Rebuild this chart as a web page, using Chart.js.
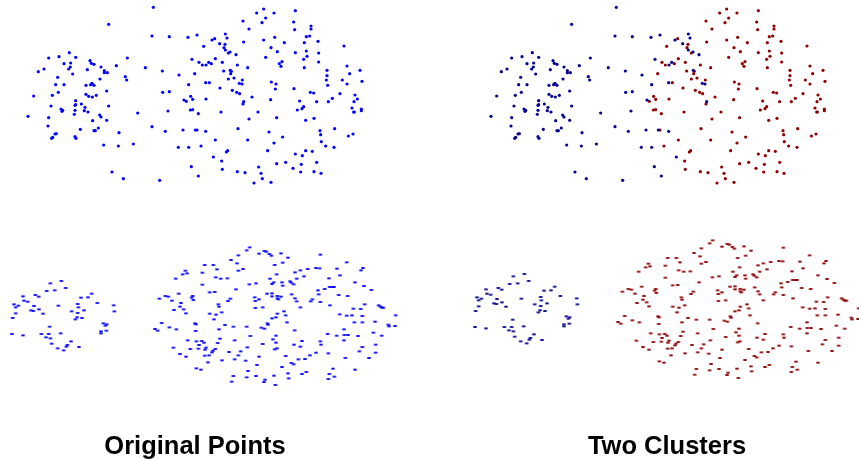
<!DOCTYPE html>
<html>
<head>
<meta charset="utf-8">
<title>Two Clusters</title>
<script src="https://cdn.jsdelivr.net/npm/chart.js@4"></script>
<style>
  html, body { margin: 0; padding: 0; background: #fff; }
  #wrap { position: relative; width: 859px; height: 459px; overflow: hidden; }
  canvas { display: block; }
  .title { position: absolute; top: 430px; width: 300px; text-align: center; color: #000;
           font: bold 25.5px "Liberation Sans", Arial, sans-serif; line-height: 30px; }
</style>
</head>
<body>
<div id="wrap">
  <canvas id="chart" width="859" height="459"></canvas>
  <div class="title" style="left:45px">Original Points</div>
  <div class="title" style="left:517px">Two Clusters</div>
</div>
<script>
// values, x then y
const topBlue = [[460,22],[326,73],[456,108],[508,110],[564,112],[591,105],[208,158],[146,174],[177,170],[227,172],[192,191],[212,189],[211,201],[206,207],[115,215],[132,207],[218,222],[173,232],[167,254],[192,254],[175,277],[157,286],[101,288],[270,182],[274,190],[282,193],[262,209],[303,201],[313,212],[313,218],[322,218],[300,237],[349,197],[382,174],[436,203],[376,230],[380,240],[487,213],[537,225],[576,178],[566,254],[258,256],[272,254],[276,250],[282,256],[320,273],[258,283],[266,289],[277,291],[289,286],[488,277],[508,275],[552,300],[227,302],[227,314],[225,316],[244,312],[255,322],[253,332],[264,336],[225,331],[223,343],[326,318],[153,318],[183,327],[188,331],[186,334],[146,353],[84,349],[299,345],[303,351],[278,362],[320,361],[413,339],[504,333],[144,378],[165,402],[169,401],[158,412],[155,415],[225,410],[228,415],[241,388],[295,384],[282,392],[286,392],[357,398],[311,435],[355,438],[400,432],[456,380],[496,394],[549,390],[586,390],[535,442],[566,442],[336,516],[370,536],[479,541],[574,500],[595,528],[676,102],[681,114],[636,120],[659,131],[676,150],[690,156],[708,164],[618,195],[626,187],[691,211],[718,250],[726,252],[617,248],[731,305],[617,394],[640,471]];
const topRed = [[584,221],[572,289],[578,298],[559,304],[571,330],[578,329],[595,341],[591,390],[791,27],[770,39],[822,39],[886,32],[797,54],[729,63],[786,68],[881,66],[933,78],[933,87],[747,87],[884,89],[644,116],[611,139],[675,133],[672,143],[685,159],[646,176],[667,187],[597,187],[607,195],[634,191],[712,195],[743,203],[671,213],[694,214],[692,221],[685,237],[702,234],[727,240],[628,248],[660,264],[697,271],[710,277],[719,281],[756,291],[618,297],[729,312],[663,336],[774,336],[747,357],[714,386],[646,420],[743,420],[603,438],[683,452],[679,456],[665,483],[667,508],[712,515],[735,518],[776,501],[783,520],[787,536],[762,549],[813,547],[824,112],[791,120],[731,126],[853,128],[919,110],[929,108],[954,124],[913,128],[1032,138],[813,143],[832,155],[886,158],[919,153],[956,159],[921,169],[911,178],[797,172],[956,186],[846,185],[838,191],[843,199],[913,203],[1041,198],[981,211],[1080,211],[1049,221],[981,227],[979,240],[1027,240],[1086,244],[1041,252],[983,256],[814,246],[828,252],[826,267],[882,266],[931,277],[941,279],[1020,281],[1065,285],[997,295],[1072,297],[812,299],[899,303],[950,305],[985,305],[1062,305],[911,320],[906,326],[892,330],[1056,324],[1084,327],[1084,332],[1061,336],[1063,336],[830,353],[942,355],[917,361],[1004,386],[807,396],[960,392],[962,404],[1059,402],[1045,408],[848,411],[822,429],[964,425],[977,438],[1002,442],[803,452],[917,452],[937,454],[886,462],[907,467],[950,487],[857,487],[830,491],[904,493],[879,505],[902,516],[942,515],[963,520]];
const lowBlue = [[151,145],[184,138],[197,159],[140,168],[164,166],[69,184],[106,180],[116,185],[72,197],[83,200],[42,208],[55,212],[47,217],[102,213],[175,212],[93,226],[100,228],[117,223],[129,236],[47,235],[38,249],[243,188],[264,187],[275,176],[292,204],[233,207],[235,217],[252,226],[215,229],[233,234],[341,211],[343,229],[231,247],[226,253],[246,249],[310,265],[320,268],[316,272],[149,275],[36,297],[69,301],[124,297],[146,297],[182,295],[138,307],[151,310],[303,289],[303,295],[319,287],[155,326],[213,319],[202,330],[199,335],[173,340],[191,346],[237,336]];
const lowRed = [[556,107],[548,118],[561,115],[527,131],[536,176],[496,183],[505,185],[478,191],[516,197],[578,183],[575,188],[580,195],[543,204],[540,215],[522,225],[551,223],[558,235],[485,264],[585,265],[588,268],[465,282],[473,287],[508,277],[529,283],[587,288],[563,316],[589,319],[597,330],[520,338],[571,342],[595,341],[540,357],[558,365],[589,400],
[749,37],[740,46],[793,48],[799,50],[777,56],[808,57],[814,62],[843,55],[715,61],[864,68],[961,59],[693,75],[711,85],[848,83],[824,90],[614,90],[640,90],[651,103],[729,102],[715,107],[607,113],[1040,82],[901,106],[885,112],[923,102],[948,99],[959,100],[1011,101],[1089,99],[1083,106],[830,118],[912,124],[1020,121],[647,127],[662,131],[682,130],[810,131],[890,131],[987,130],[870,139],[874,143],[846,142],[821,142],[816,147],[768,145],[748,148],[848,152],[881,148],[1065,142],[607,149],[708,163],[1092,153],[989,156],[997,156],[1002,156],[974,162],[954,166],[1114,165],[629,172],[644,171],[956,178],[801,176],[816,175],[816,184],[832,183],[843,185],[832,190],[835,193],[875,178],[764,187],[777,193],[766,198],[885,190],[890,199],[1016,180],[1043,183],[691,191],[684,198],[937,193],[932,199],[961,201],[655,208],[657,215],[766,219],[788,217],[901,217],[990,211],[1094,208],[1136,211],[1141,215],[1146,218],[1150,218],[1060,221],[1082,222],[852,229],[832,236],[629,236],[648,239],[665,232],[857,241],[816,250],[828,247],[1019,238],[1040,242],[1056,241],[1087,243],[1187,241],[642,253],[861,262],[802,265],[804,269],[1063,262],[1087,262],[1125,260],[1165,269],[1167,274],[1185,273],[675,270],[700,275],[740,275],[784,278],[793,281],[657,283],[884,286],[1032,283],[983,297],[1010,302],[1033,300],[1044,300],[1074,303],[1120,293],[1145,302],[751,303],[828,302],[819,313],[660,311],[704,316],[906,318],[961,319],[1032,316],[605,318],[612,323],[653,324],[788,327],[828,323],[882,329],[963,329],[1127,329],[901,335],[1087,336],[742,337],[618,338],[646,342],[615,344],[639,347],[636,352],[831,340],[824,343],[722,349],[687,351],[948,353],[985,355],[1078,349],[1127,353],[715,361],[614,362],[627,361],[777,365],[857,363],[930,361],[704,373],[666,376],[737,377],[895,373],[915,372],[1036,369],[1107,369],[624,382],[874,384],[881,388],[771,390],[846,396],[999,401],[603,404],[1065,404],[744,408],[919,411],[864,415],[906,417],[988,417],[700,423],[768,423],[822,422],[1003,425],[740,427],[866,430],[985,432],[795,434],[695,440],[792,441],[826,450]];

const BLUE = '#0000ff', NAVY = '#00008f', MAROON = '#8f0000';

// the lower plots are squashed, so their dots come out as flat ellipses
function flatDot(color) {
    const c = document.createElement('canvas');
    c.width = 6;
    c.height = 4;
    const g = c.getContext('2d');
    g.fillStyle = color;
    g.beginPath();
    g.ellipse(3, 2, 2.1, 1.1, 0, 0, Math.PI * 2);
    g.fill();
    return c;
}

function toPoints(list) {
    return list.map(function(p) { return { x: p[0], y: p[1] }; });
}

function series(label, list, color, xAxisID, yAxisID, flat) {
    return {
        label: label,
        data: toPoints(list),
        xAxisID: xAxisID,
        yAxisID: yAxisID,
        backgroundColor: color,
        borderColor: color,
        borderWidth: 0,
        pointRadius: 1.6,
        pointStyle: flat ? flatDot(color) : 'circle',
        clip: false
    };
}

function hidden(min, max, reverse) {
    return { type: 'linear', display: false, min: min, max: max, reverse: !!reverse };
}

new Chart(document.getElementById('chart'), {
    type: 'scatter',
    data: {
        datasets: [
            series('top', topBlue.concat(topRed), BLUE, 'xLeft', 'yTop', false),
            series('bottom', lowBlue.concat(lowRed), BLUE, 'xLeft', 'yLowLeft', true),
            series('top cluster 1', topBlue, NAVY, 'xRight', 'yTop', false),
            series('top cluster 2', topRed, MAROON, 'xRight', 'yTop', false),
            series('bottom cluster 1', lowBlue, NAVY, 'xRight', 'yLowRight', true),
            series('bottom cluster 2', lowRed, MAROON, 'xRight', 'yLowRight', true)
        ]
    },
    options: {
        responsive: false,
        animation: false,
        layout: { padding: 0, autoPadding: false },
        plugins: { legend: { display: false }, tooltip: { enabled: false } },
        scales: {
            xLeft: hidden(0, 2577),
            xRight: hidden(-1389, 1188),
            yTop: hidden(0, 1377, true),
            yLowLeft: hidden(-705, 672, true),
            yLowRight: hidden(-684, 693, true)
        }
    }
});
</script>
</body>
</html>
